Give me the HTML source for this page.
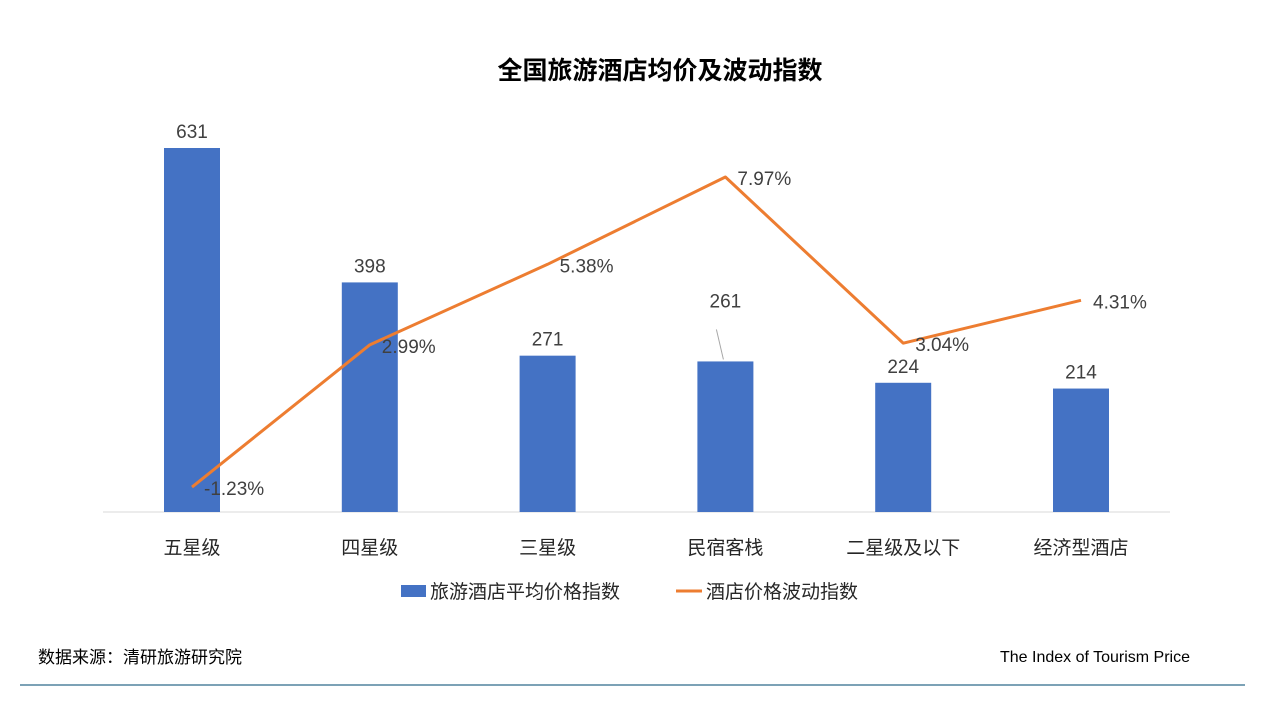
<!DOCTYPE html>
<html><head><meta charset="utf-8"><style>
body{margin:0;width:1280px;height:720px;background:#fff;overflow:hidden;font-family:"Liberation Sans","Noto Sans CJK SC",sans-serif;}
svg text{font-family:"Liberation Sans","Noto Sans CJK SC",sans-serif;}
</style></head><body>
<svg width="1280" height="720">
<text x="660" y="79" text-anchor="middle" font-size="25" font-weight="bold" fill="#000">全国旅游酒店均价及波动指数</text>
<line x1="103" y1="512" x2="1170" y2="512" stroke="#d9d9d9" stroke-width="1"/>
<g id="bars"></g><g id="line"></g><g id="labels"></g>
<g>
<rect x="401" y="585" width="25" height="12" fill="#4472c4"/>
<text x="430" y="598" font-size="19" fill="#262626">旅游酒店平均价格指数</text>
<line x1="676" y1="591" x2="702" y2="591" stroke="#ed7d31" stroke-width="3"/>
<text x="706" y="598" font-size="19" fill="#262626">酒店价格波动指数</text>
</g>
<text x="38" y="663" font-size="17" fill="#000">数据来源：清研旅游研究院</text>
<text x="1190" y="662" text-anchor="end" font-size="16" fill="#000">The Index of Tourism Price</text>
<line x1="20" y1="685" x2="1245" y2="685" stroke="#2e6b8a" stroke-width="1.2"/>
</svg>
<script>
const categories=["五星级","四星级","三星级","民宿客栈","二星级及以下","经济型酒店"];
const priceIndex=[631,398,271,261,224,214];
const volatility=[-1.23,2.99,5.38,7.97,3.04,4.31];
const volLabels=["-1.23%","2.99%","5.38%","7.97%","3.04%","4.31%"];
const NS="http://www.w3.org/2000/svg";
const xC=i=>192+i*177.8;
const yBar=v=>512-v*(364/631);
const yLine=v=>445.6-v*33.7;
function mk(t,a,p){const e=document.createElementNS(NS,t);for(const k in a)e.setAttribute(k,a[k]);p.appendChild(e);return e;}
const bars=document.getElementById('bars'),line=document.getElementById('line'),labs=document.getElementById('labels');
categories.forEach((c,i)=>{
 const r=mk('rect',{x:xC(i)-28,y:yBar(priceIndex[i]),width:56,height:512-yBar(priceIndex[i]),fill:'#4472c4'},bars);
 
 
 const off=(i==3)?-54:-10;
 const t=mk('text',{x:xC(i),y:yBar(priceIndex[i])+off,'text-anchor':'middle','font-size':'19',fill:'#404040'},labs);
 t.textContent=priceIndex[i];
 
 
 if(i==3){const l=mk('line',{x1:xC(i)-9,y1:yBar(priceIndex[i])-32,x2:xC(i)-2,y2:yBar(priceIndex[i])-2,stroke:'#a6a6a6','stroke-width':1},labs);
 
 }
 const x=mk('text',{x:xC(i),y:554,'text-anchor':'middle','font-size':'19',fill:'#262626'},labs);
 x.textContent=c;
 
 
 const v=mk('text',{x:xC(i)+12,y:yLine(volatility[i])+8,'font-size':'19',fill:'#404040'},labs);
 v.textContent=volLabels[i];
 
 
});
const pl=mk('polyline',{points:volatility.map((v,i)=>xC(i)+','+yLine(v)).join(' '),fill:'none',stroke:'#ed7d31','stroke-width':3,'stroke-linejoin':'round'},line);


</script>
</body></html>
